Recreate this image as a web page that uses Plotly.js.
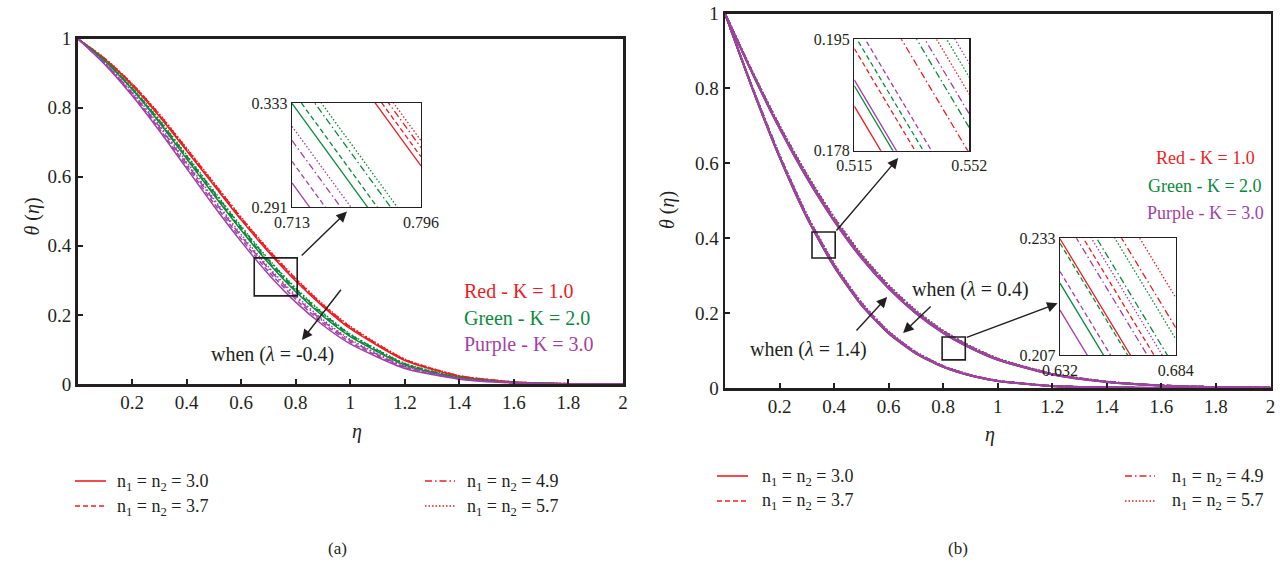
<!DOCTYPE html>
<html><head><meta charset="utf-8">
<script src="https://cdn.plot.ly/plotly-3.0.1.min.js"></script>
<style>html,body{margin:0;padding:0;background:#fff}#chart{width:1287px;height:563px}</style>
</head><body><div id="chart"></div>
<script>
// ---------------- DATA ----------------
// panel (a): lambda = -0.4
const etaA = [0,0.1,0.2,0.3,0.4,0.5,0.6,0.7,0.8,0.9,1.0,1.2,1.4,1.6,1.8,2.0];
const aRed30 = [1,0.940,0.865,0.775,0.675,0.575,0.475,0.382,0.298,0.224,0.160,0.068,0.022,0.005,0.0008,0];
const aRed37 = [1,0.941,0.867,0.778,0.678,0.578,0.478,0.385,0.301,0.227,0.163,0.070,0.023,0.0055,0.0009,0];
const aRed49 = [1,0.942,0.869,0.780,0.681,0.581,0.481,0.388,0.304,0.229,0.165,0.071,0.024,0.006,0.001,0];
const aRed57 = [1,0.943,0.870,0.782,0.683,0.583,0.483,0.390,0.306,0.231,0.167,0.072,0.024,0.006,0.001,0];
const aGreen30 = [1,0.935,0.853,0.757,0.652,0.547,0.445,0.350,0.267,0.196,0.137,0.055,0.017,0.004,0.0006,0];
const aGreen37 = [1,0.936,0.855,0.760,0.656,0.551,0.449,0.354,0.271,0.199,0.140,0.057,0.018,0.004,0.0006,0];
const aGreen49 = [1,0.937,0.857,0.763,0.660,0.556,0.454,0.359,0.275,0.203,0.143,0.059,0.019,0.0045,0.0007,0];
const aGreen57 = [1,0.938,0.859,0.766,0.663,0.559,0.457,0.362,0.278,0.206,0.145,0.060,0.020,0.0047,0.0007,0];
const aPurple30 = [1,0.925,0.835,0.733,0.624,0.515,0.412,0.318,0.237,0.170,0.116,0.045,0.014,0.003,0.0004,0];
const aPurple37 = [1,0.927,0.839,0.739,0.631,0.523,0.420,0.326,0.245,0.176,0.121,0.048,0.015,0.0035,0.0005,0];
const aPurple49 = [1,0.929,0.843,0.745,0.638,0.531,0.428,0.334,0.252,0.182,0.126,0.050,0.016,0.0037,0.0005,0];
const aPurple57 = [1,0.930,0.846,0.749,0.643,0.536,0.433,0.339,0.257,0.186,0.129,0.052,0.016,0.0038,0.0005,0];

// inset of panel (a): segments read at eta = 0.713 and 0.796
const insAx = [0.713, 0.796];
const insARed = [[0.3791,0.3076],[0.3828,0.3113],[0.3865,0.3150],[0.3893,0.3178]];
const insAGreen = [[0.3328,0.2613],[0.3382,0.2667],[0.3456,0.2741],[0.3493,0.2778]];
const insAPurple = [[0.3007,0.2292],[0.3094,0.2379],[0.3179,0.2464],[0.3236,0.2521]];

// panel (b): faster-decaying band
const etaB = [0,0.1,0.2,0.3,0.4,0.5,0.6,0.7,0.8,0.9,1.0,1.2,1.4,1.6,1.8,2.0];
const lowRed30 = [1,0.7998,0.6155,0.4546,0.3236,0.2210,0.1454,0.0918,0.0560,0.0327,0.0184,0.0052,0.0013,0.0002,0,0];
const lowGreen30 = [1,0.8002,0.6161,0.4554,0.3244,0.2218,0.1460,0.0922,0.0562,0.0329,0.0185,0.0053,0.0013,0.0002,0,0];
const lowPurple30 = [1,0.8006,0.6168,0.4562,0.3252,0.2225,0.1465,0.0926,0.0565,0.0331,0.0186,0.0053,0.0013,0.0002,0,0];
const lowRed37 = [1,0.8010,0.6174,0.4570,0.3260,0.2232,0.1471,0.0930,0.0568,0.0333,0.0187,0.0053,0.0013,0.0002,0,0];
const lowGreen37 = [1,0.8014,0.6180,0.4578,0.3268,0.2239,0.1477,0.0934,0.0571,0.0334,0.0188,0.0054,0.0013,0.0002,0,0];
const lowPurple37 = [1,0.8018,0.6187,0.4586,0.3276,0.2246,0.1482,0.0938,0.0574,0.0336,0.0189,0.0054,0.0013,0.0002,0,0];
const lowRed49 = [1,0.8022,0.6193,0.4594,0.3284,0.2254,0.1488,0.0942,0.0576,0.0338,0.0191,0.0054,0.0013,0.0002,0,0];
const lowGreen49 = [1,0.8026,0.6200,0.4602,0.3292,0.2261,0.1493,0.0946,0.0579,0.0340,0.0192,0.0054,0.0013,0.0002,0,0];
const lowPurple49 = [1,0.8030,0.6206,0.4610,0.3300,0.2268,0.1499,0.0950,0.0582,0.0341,0.0193,0.0055,0.0013,0.0002,0,0];
const lowRed57 = [1,0.8034,0.6212,0.4618,0.3308,0.2275,0.1505,0.0954,0.0585,0.0343,0.0194,0.0055,0.0013,0.0002,0,0];
const lowGreen57 = [1,0.8038,0.6219,0.4626,0.3316,0.2282,0.1510,0.0958,0.0588,0.0345,0.0195,0.0055,0.0013,0.0002,0,0];
const lowPurple57 = [1,0.8042,0.6225,0.4634,0.3324,0.2290,0.1516,0.0962,0.0590,0.0347,0.0196,0.0056,0.0013,0.0002,0,0];
// panel (b): slower-decaying band
const upPurple30 = [1,0.8403,0.6926,0.5605,0.4455,0.3465,0.2651,0.1986,0.1464,0.1063,0.0748,0.0359,0.0159,0.0065,0.0025,0.0009];
const upGreen30 = [1,0.8408,0.6934,0.5615,0.4465,0.3475,0.2660,0.1994,0.1471,0.1068,0.0752,0.0361,0.0160,0.0065,0.0025,0.0009];
const upRed30 = [1,0.8413,0.6942,0.5625,0.4475,0.3485,0.2669,0.2002,0.1477,0.1073,0.0756,0.0363,0.0161,0.0066,0.0026,0.0009];
const upPurple37 = [1,0.8418,0.6950,0.5635,0.4485,0.3495,0.2678,0.2010,0.1484,0.1078,0.0760,0.0365,0.0162,0.0066,0.0026,0.0009];
const upGreen37 = [1,0.8423,0.6958,0.5645,0.4495,0.3505,0.2687,0.2018,0.1490,0.1083,0.0764,0.0367,0.0163,0.0066,0.0026,0.0009];
const upRed37 = [1,0.8428,0.6966,0.5655,0.4505,0.3515,0.2696,0.2026,0.1497,0.1088,0.0768,0.0369,0.0164,0.0067,0.0026,0.0009];
const upPurple49 = [1,0.8433,0.6974,0.5665,0.4515,0.3525,0.2705,0.2034,0.1503,0.1093,0.0772,0.0371,0.0165,0.0067,0.0026,0.0009];
const upGreen49 = [1,0.8438,0.6982,0.5675,0.4525,0.3535,0.2714,0.2042,0.1510,0.1098,0.0776,0.0373,0.0166,0.0068,0.0026,0.0009];
const upRed49 = [1,0.8443,0.6990,0.5685,0.4535,0.3545,0.2723,0.2050,0.1516,0.1103,0.0780,0.0375,0.0167,0.0068,0.0026,0.0009];
const upPurple57 = [1,0.8448,0.6998,0.5695,0.4545,0.3555,0.2732,0.2058,0.1523,0.1108,0.0784,0.0377,0.0168,0.0068,0.0026,0.0009];
const upGreen57 = [1,0.8453,0.7006,0.5705,0.4555,0.3565,0.2741,0.2066,0.1529,0.1113,0.0788,0.0379,0.0169,0.0069,0.0026,0.0009];
const upRed57 = [1,0.8458,0.7014,0.5715,0.4565,0.3575,0.2750,0.2074,0.1536,0.1118,0.0792,0.0381,0.0170,0.0069,0.0027,0.0009];

// insets of panel (b)
const insB1x = [0.515, 0.552];
const insB1Red = [[0.1848,0.1553],[0.1936,0.1641],[0.2071,0.1776],[0.2161,0.1866]];
const insB1Green = [[0.1879,0.1584],[0.1957,0.1662],[0.2110,0.1815],[0.2187,0.1892]];
const insB1Purple = [[0.1888,0.1593],[0.1978,0.1683],[0.2131,0.1836],[0.2208,0.1913]];
const insB2x = [0.632, 0.684];
const insB2Red = [[0.2329,0.1903],[0.2416,0.1990],[0.2557,0.2131],[0.2624,0.2198]];
const insB2Green = [[0.2230,0.1804],[0.2319,0.1893],[0.2465,0.2039],[0.2532,0.2106]];
const insB2Purple = [[0.2170,0.1744],[0.2256,0.1830],[0.2391,0.1965],[0.2446,0.2020]];

const nLabels = ['3.0','3.7','4.9','5.7'];
const kLabels = ['Red - K = 1.0','Green - K = 2.0','Purple - K = 3.0'];
const xTicks = [0.2,0.4,0.6,0.8,1,1.2,1.4,1.6,1.8,2];
const xTickText = ['0.2','0.4','0.6','0.8','1','1.2','1.4','1.6','1.8','2'];
const yTicks = [0,0.2,0.4,0.6,0.8,1];
const yTickText = ['0','0.2','0.4','0.6','0.8','1'];

// ---------------- STYLE ----------------
const RED='#ee1d23', GREEN='#0b8a3c', PURPLE='#a43fa8', INK='#231f20';
const COLORS=[RED,GREEN,PURPLE];
const DASHES=['solid','5px,3px','7px,3px,1.5px,3px','1.5px,2px'];
const FONT='"Liberation Serif","DejaVu Serif",serif';
const W=1287,H=563;
const px=x=>x/W, py=y=>1-y/H;

const traces=[];
function curve(x,y,color,dash,xa,ya,w){
  traces.push({type:'scatter',mode:'lines',x:x,y:y,xaxis:xa,yaxis:ya,hoverinfo:'skip',
    line:{color:color,dash:dash,width:w||1.5,shape:'spline',smoothing:0.6}});
}
function seg(x,y,color,dash,xa,ya){
  traces.push({type:'scatter',mode:'lines',x:x,y:y,xaxis:xa,yaxis:ya,hoverinfo:'skip',
    line:{color:color,dash:dash,width:1.3}});
}
// panel (a)
[[aRed30,aRed37,aRed49,aRed57],[aGreen30,aGreen37,aGreen49,aGreen57],[aPurple30,aPurple37,aPurple49,aPurple57]]
 .forEach((grp,c)=>grp.forEach((ys,i)=>curve(etaA,ys,COLORS[c],DASHES[i],'x','y',1.5)));
[insARed,insAGreen,insAPurple].forEach((grp,c)=>grp.forEach((ys,i)=>seg(insAx,ys,COLORS[c],DASHES[i],'x2','y2')));
// panel (b)
[[lowRed30,lowRed37,lowRed49,lowRed57],[lowGreen30,lowGreen37,lowGreen49,lowGreen57],[lowPurple30,lowPurple37,lowPurple49,lowPurple57]]
 .forEach((grp,c)=>grp.forEach((ys,i)=>curve(etaB,ys,COLORS[c],DASHES[i],'x3','y3',1.8)));
[[upRed30,upRed37,upRed49,upRed57],[upGreen30,upGreen37,upGreen49,upGreen57],[upPurple30,upPurple37,upPurple49,upPurple57]]
 .forEach((grp,c)=>grp.forEach((ys,i)=>curve(etaB,ys,COLORS[c],DASHES[i],'x3','y3',1.8)));
[insB1Red,insB1Green,insB1Purple].forEach((grp,c)=>grp.forEach((ys,i)=>seg(insB1x,ys,COLORS[c],DASHES[i],'x4','y4')));
[insB2Red,insB2Green,insB2Purple].forEach((grp,c)=>grp.forEach((ys,i)=>seg(insB2x,ys,COLORS[c],DASHES[i],'x5','y5')));

function mainX(domain,anchor){
  return {domain:domain,anchor:anchor,range:[0,2],tickvals:xTicks,ticktext:xTickText,ticks:'inside',ticklen:5,tickwidth:2,
    tickcolor:INK,showline:true,mirror:true,linewidth:2.5,linecolor:INK,showgrid:false,zeroline:false,
    tickfont:{size:19,family:FONT,color:INK},fixedrange:true};
}
function mainY(domain,anchor){
  return {domain:domain,anchor:anchor,range:[0,1],tickvals:yTicks,ticktext:yTickText,ticks:'inside',ticklen:5,tickwidth:2,
    tickcolor:INK,showline:true,mirror:true,linewidth:2.5,linecolor:INK,showgrid:false,zeroline:false,
    tickfont:{size:19,family:FONT,color:INK},fixedrange:true};
}
function insAxis(domain,anchor,range){
  return {domain:domain,anchor:anchor,range:range,tickvals:range,ticktext:range.map(v=>v.toFixed(3)),ticks:'',
    showline:true,mirror:true,linewidth:1.3,linecolor:INK,showgrid:false,zeroline:false,
    tickfont:{size:16,family:FONT,color:INK},fixedrange:true};
}

const shapes=[
  {type:'rect',xref:'x',yref:'y',x0:0.648,x1:0.8055,y0:0.255,y1:0.365,line:{color:INK,width:1.6}},
  {type:'rect',xref:'x3',yref:'y3',x0:0.319,x1:0.404,y0:0.347,y1:0.4166,line:{color:INK,width:1.6}},
  {type:'rect',xref:'x3',yref:'y3',x0:0.796,x1:0.881,y0:0.075,y1:0.136,line:{color:INK,width:1.6}}
];
const annotations=[];
function arrow(xref,yref,x,y,ax,ay){
  annotations.push({xref:xref,yref:yref,axref:xref,ayref:yref,x:x,y:y,ax:ax,ay:ay,text:'',showarrow:true,
    arrowhead:2,arrowsize:1.5,arrowwidth:1.4,arrowcolor:INK});
}
function txt(xref,yref,x,y,t,opt){
  annotations.push(Object.assign({xref:xref,yref:yref,x:x,y:y,text:t,showarrow:false,yanchor:'middle',
    font:{family:FONT,size:19,color:INK}},opt||{}));
}
// panel (a) annotations
arrow('x','y',0.988,0.499,0.8165,0.3676);
arrow('x','y',0.823,0.127,0.970,0.277);
txt('x','y',0.714,0.084,'when (<i>λ</i> = -0.4)',{font:{family:FONT,size:20,color:INK}});
kLabels.forEach((t,i)=>txt('x','y',1.411,[0.269,0.191,0.113][i],t,{xanchor:'left',font:{family:FONT,size:20,color:COLORS[i]}}));
// panel (b) annotations
arrow('x3','y3',0.635,0.614,0.404,0.4166);
arrow('x3','y3',1.2195,0.226,0.881,0.1335);
arrow('x3','y3',0.5945,0.243,0.477,0.1495);
arrow('x3','y3',0.653,0.147,0.7596,0.2216);
txt('x3','y3',0.3046,0.1015,'when (<i>λ</i> = 1.4)',{font:{family:FONT,size:20,color:INK}});
txt('x3','y3',0.899,0.2617,'when (<i>λ</i> = 0.4)',{font:{family:FONT,size:20,color:INK}});
kLabels.forEach((t,i)=>txt('x3','y3',1.761,[0.614,0.539,0.467][i],t,{xanchor:'center',font:{family:FONT,size:18,color:COLORS[i]}}));
// axis titles
txt('paper','paper',px(18),py(217),'<i>θ</i> (<i>η</i>)',{textangle:-90,font:{family:FONT,size:20,color:INK}});
txt('paper','paper',px(667),py(210),'<i>θ</i> (<i>η</i>)',{textangle:-90,font:{family:FONT,size:20,color:INK}});
txt('paper','paper',px(350),py(431),'<i>η</i>',{font:{family:FONT,size:20,color:INK}});
txt('paper','paper',px(997),py(434),'<i>η</i>',{font:{family:FONT,size:20,color:INK}});
// captions
txt('paper','paper',px(326),py(548),'(a)',{font:{family:FONT,size:17,color:INK}});
txt('paper','paper',px(970),py(548),'(b)',{font:{family:FONT,size:17,color:INK}});
// legends below each panel
const legendA={rows:[481,506],cols:[[75,106,115],[425,455,465]]};
const legendB={rows:[476,501],cols:[[717,748,760],[1125,1155,1170]]};
[legendA,legendB].forEach(L=>{
  nLabels.forEach((n,i)=>{
    const col=L.cols[Math.floor(i/2)], row=L.rows[i%2];
    shapes.push({type:'line',xref:'paper',yref:'paper',x0:px(col[0]),x1:px(col[1]),y0:py(row),y1:py(row),
      line:{color:RED,width:1.6,dash:DASHES[i]}});
    txt('paper','paper',px(col[2]),py(row+1),'n<sub>1</sub> = n<sub>2</sub> = '+n,
      {xanchor:'left',font:{family:FONT,size:18,color:INK}});
  });
});

const layout={
  width:W,height:H,margin:{l:0,r:0,t:0,b:0},paper_bgcolor:'#fff',plot_bgcolor:'rgba(0,0,0,0)',showlegend:false,
  font:{family:FONT,size:19,color:INK},
  xaxis:mainX([px(77.5),px(623)],'y'), yaxis:mainY([py(384),py(38.5)],'x'),
  xaxis2:insAxis([px(292),px(421)],'y2',insAx), yaxis2:insAxis([py(207),py(103)],'x2',[0.291,0.333]),
  xaxis3:mainX([px(725),px(1270.5)],'y3'), yaxis3:mainY([py(388),py(13.5)],'x3'),
  xaxis4:insAxis([px(854.3),px(969.3)],'y4',insB1x), yaxis4:insAxis([py(150.7),py(39.3)],'x4',[0.178,0.195]),
  xaxis5:insAxis([px(1060),px(1175.7)],'y5',insB2x), yaxis5:insAxis([py(355),py(238.3)],'x5',[0.207,0.233]),
  shapes:shapes,annotations:annotations
};
Plotly.newPlot('chart',traces,layout,{staticPlot:true,displayModeBar:false});
</script>
</body></html>
